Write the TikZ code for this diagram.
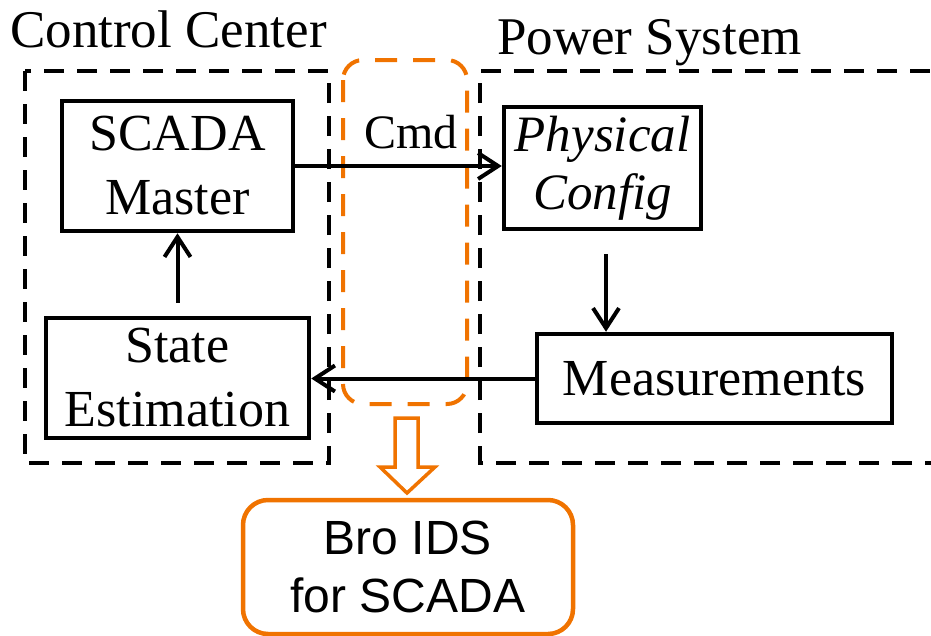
\documentclass[tikz,border=0pt]{standalone}
\usepackage{fontspec}
\setmainfont{Liberation Serif}
\newfontfamily\idsfont{Liberation Sans}
\usetikzlibrary{arrows.meta}
\definecolor{idsorange}{RGB}{240,115,0}
\begin{document}
\begin{tikzpicture}[x=1pt,y=-1pt,
  block/.style={draw, line width=4.5pt, inner sep=0pt, align=center,
    font=\fontsize{52}{64}\selectfont},
  zone/.style={line width=4.5pt, dash pattern=on 20pt off 13pt},
  idszone/.style={draw=idsorange, line width=4pt, dash pattern=on 22pt off 16pt,
    rounded corners=20pt},
  flow/.style={line width=4pt,
    -{Straight Barb[length=20pt,width=26pt,line width=4pt]}},
  title/.style={anchor=base west, inner sep=0pt, font=\fontsize{53}{60}\selectfont}]
\clip (0,0) rectangle (931,635);

% group frames
\draw[zone] (25,71) rectangle (329,463);
\draw[zone] (945,463) -- (480,463) -- (480,71) -- (945,71);
\node[title] (cc) at (10,47) {Control Center};
\node[title] (ps) at (497,54) {Power System};

% monitored link
\draw[idszone] (343,60) rectangle (467,404);

% blocks
\node[block, minimum width=231, minimum height=130] (scada) at (177.5,166)
  {SCADA\\Master};
\node[block, minimum width=197, minimum height=122,
  font=\fontsize{51}{58}\selectfont\itshape] (phys) at (602.5,168)
  {Physical\\Config};
\node[block, minimum width=263, minimum height=120] (state) at (177.5,378)
  {State\\Estimation};
\node[block, minimum width=355, minimum height=89] (meas) at (714.5,378.5)
  {Measurements};

% connectors
\draw[flow] (scada.east) -- (scada.east -| phys.west);
\node[anchor=base, inner sep=0pt, font=\fontsize{48}{56}\selectfont] (cmd) at (411,148) {Cmd};
\draw[flow, shorten <=13pt] (state.north) -- (scada.south);
\draw[flow, shorten <=23pt] ([xshift=3.5pt]phys.south) -- ([xshift=3.5pt]phys.south |- meas.north);
\draw[flow] (meas.west) -- (meas.west -| state.east);

% IDS box and hollow arrow
\node[draw=idsorange, line width=4.5pt, rounded corners=25pt, inner sep=0pt,
  minimum width=330, minimum height=134, align=center,
  font=\idsfont\fontsize{48}{58}\selectfont] (ids) at (408,567)
  {Bro IDS\\for SCADA};
\coordinate (tip) at (407,493);
\draw[idsorange, line width=3.5pt, line join=miter]
  ([shift={(-12,-75)}]tip) -- ([shift={(11,-75)}]tip) -- ([shift={(11,-26)}]tip)
  -- ([shift={(28,-26)}]tip) -- (tip) -- ([shift={(-27,-26)}]tip)
  -- ([shift={(-12,-26)}]tip) -- cycle;
\end{tikzpicture}
\end{document}
